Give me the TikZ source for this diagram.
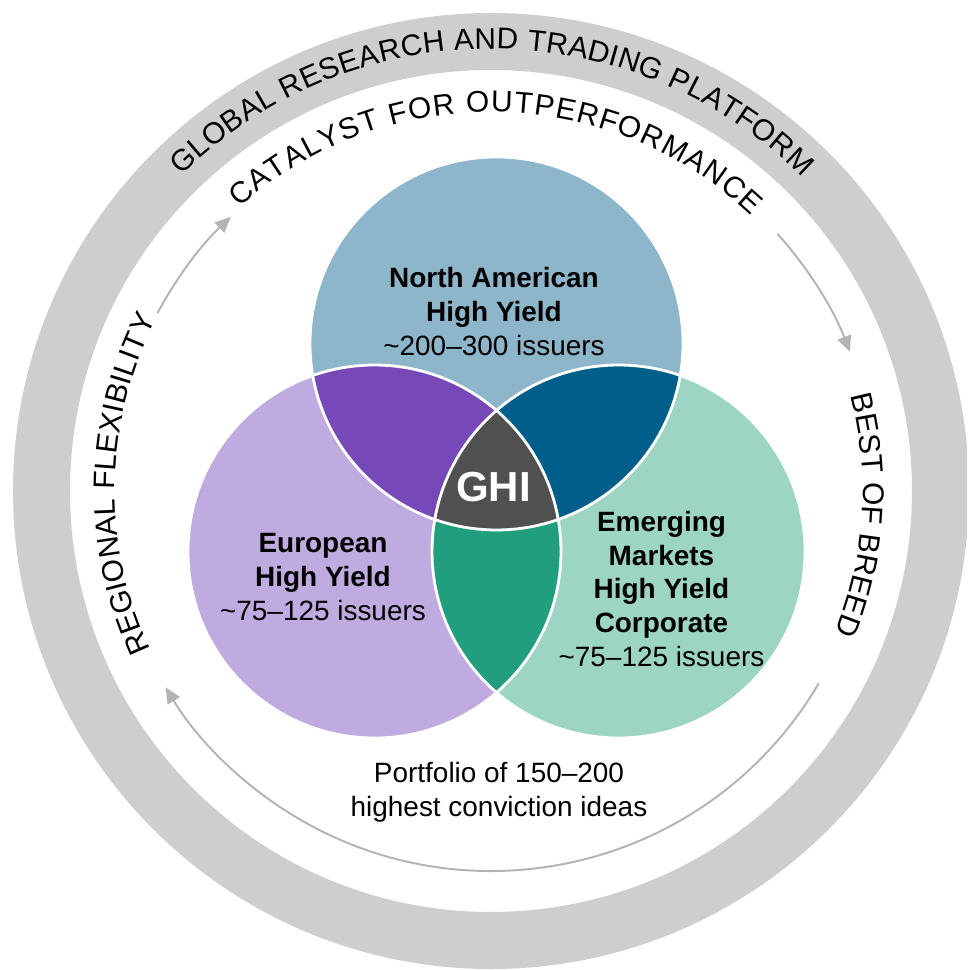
\documentclass[tikz,border=0pt]{standalone}
\usepackage{fontspec}
\setmainfont{Liberation Sans}
\usetikzlibrary{arrows.meta,decorations.text}

\definecolor{ringGray}{HTML}{CECECE}
\definecolor{arrowGray}{HTML}{B3B3B3}
\definecolor{naBlue}{HTML}{8DB6CB}
\definecolor{euLilac}{HTML}{C0ABE0}
\definecolor{emMint}{HTML}{9DD5C5}
\definecolor{naEuPurple}{HTML}{7748B8}
\definecolor{naEmTeal}{HTML}{005F8A}
\definecolor{euEmGreen}{HTML}{219E7B}
\definecolor{coreGray}{HTML}{505050}

\newcommand{\venntext}{\fontsize{15.9}{19.3}\selectfont}
\newcommand{\arctext}{\fontsize{17}{20}\selectfont}
\newcommand{\coretext}{\fontsize{23.9}{28}\selectfont\bfseries}

\begin{document}
\begin{tikzpicture}[scale=0.02,
    every node/.style={align=center, font=\venntext},
    ringtext/.style={decorate, decoration={text along path, text align=fit to path, text={|\arctext|#1}}},
    flowarrow/.style={draw=arrowGray, line width=1.1pt, -{Triangle[length=9pt,width=8pt]}}]

    \clip (-491,-479) rectangle (476,491);

    % outer band
    \fill[ringGray, even odd rule] (0,0) circle[radius=478] (0,0) circle[radius=421];
    \path[ringtext={GLOBAL RESEARCH AND TRADING PLATFORM}]
        (134.5:442) arc[start angle=134.5, end angle=45.3, radius=442];

    % texts and arrows of the inner cycle
    \path[ringtext={CATALYST FOR OUTPERFORMANCE}]
        (131.6:379) arc[start angle=131.6, end angle=46.6, radius=379];
    \path[ringtext={BEST OF BREED}]
        (14.8:372) arc[start angle=14.8, end angle=-22.3, radius=372];
    \path[ringtext={REGIONAL FLEXIBILITY}]
        (205:376) arc[start angle=205, end angle=152.8, radius=376];

    \path[flowarrow] (151.9:378) arc[start angle=151.9, end angle=133.5, radius=378];
    \path[flowarrow] (41.9:385) arc[start angle=41.9, end angle=21.2, radius=385];
    \path[flowarrow] (-30.4:380) arc[start angle=-30.4, end angle=-148.9, radius=380];

    % venn circles
    \coordinate (cNA) at (5.5,147.5);
    \coordinate (cEU) at (-116.5,-60.5);
    \coordinate (cEM) at (127.5,-60.5);

    \fill[naBlue] (cNA) circle[radius=186.5];
    \fill[euLilac] (cEU) circle[radius=186.5];
    \fill[emMint] (cEM) circle[radius=186.5];

    \begin{scope} %NA and EU
        \clip (cNA) circle[radius=186.5];
        \fill[naEuPurple] (cEU) circle[radius=186.5];
    \end{scope}
    \begin{scope} %NA and EM
        \clip (cNA) circle[radius=186.5];
        \fill[naEmTeal] (cEM) circle[radius=186.5];
    \end{scope}
    \begin{scope} %EU and EM
        \clip (cEU) circle[radius=186.5];
        \fill[euEmGreen] (cEM) circle[radius=186.5];
    \end{scope}
    \begin{scope} %all three
        \clip (cNA) circle[radius=186.5];
        \clip (cEU) circle[radius=186.5];
        \fill[coreGray] (cEM) circle[radius=186.5];
    \end{scope}

    \begin{scope}[white, line width=1.6pt]
        \draw (cNA) circle[radius=186.5];
        \draw (cEU) circle[radius=186.5];
        \draw (cEM) circle[radius=186.5];
    \end{scope}

    % labels
    \node (na) at (3,179.5) {\textbf{North American}\\\textbf{High Yield}\\\textasciitilde200--300 issuers};
    \node (eu) at (-168,-86) {\textbf{European}\\\textbf{High Yield}\\\textasciitilde75--125 issuers};
    \node (em) at (170.5,-98) {\textbf{Emerging}\\\textbf{Markets}\\\textbf{High Yield}\\\textbf{Corporate}\\\textasciitilde75--125 issuers};
    \node[text=white, font=\coretext] (ghi) at (2.5,4) {GHI};
    \node (port) at (8,-301) {Portfolio of 150--200\\highest conviction ideas};

\end{tikzpicture}
\end{document}
